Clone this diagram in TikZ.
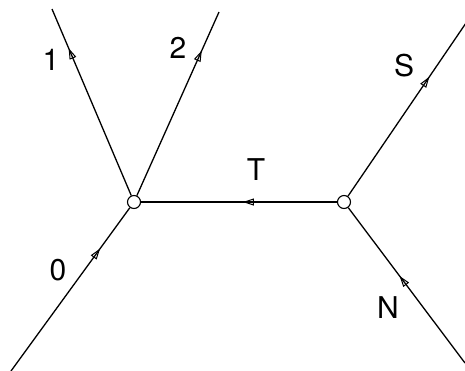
\documentclass[tikz,border=0pt]{standalone}
\usepackage{fontspec}
\setmainfont{TeX Gyre Heros}
\usetikzlibrary{arrows.meta,decorations.markings}
\tikzset{
  vtx/.style={circle, draw, fill=white, line width=1.1pt, minimum size=13pt, inner sep=0pt},
  prop/.style={line width=1.3pt},
  lbl/.style={font=\fontsize{30}{32}\selectfont, inner sep=0pt},
  midarrow/.style={postaction={decorate}, decoration={markings,
    mark=at position #1 with {\arrow[line width=1pt]{Triangle[open,length=11pt,width=7pt]}}}}
}
\begin{document}
\begin{tikzpicture}[x=1pt,y=-1pt]
\useasboundingbox (0,0) rectangle (465,370);
\coordinate (e1) at (52,9);
\coordinate (e2) at (219,12);
\coordinate (e0) at (11,371);
\coordinate (eS) at (466,23);
\coordinate (eN) at (465,363);
\node[vtx] (A) at (134,202) {};
\node[vtx] (B) at (344,202) {};
\draw[prop, midarrow=0.79] (A) -- (e1);
\draw[prop, midarrow=0.79] (A) -- (e2);
\draw[prop, midarrow=0.75] (e0) -- (A);
\draw[prop, midarrow=0.69] (B) -- (eS);
\draw[prop, midarrow=0.56] (eN) -- (B);
\draw[prop, midarrow=0.48] (B) -- (A);
\node[lbl] (l1) at (51,60) {1};
\node[lbl] (l2) at (178,48) {2};
\node[lbl] (l0) at (58,270) {0};
\node[lbl] (lS) at (404,66) {S};
\node[lbl] (lT) at (256,170) {T};
\node[lbl] (lN) at (388,308) {N};
\end{tikzpicture}
\end{document}
